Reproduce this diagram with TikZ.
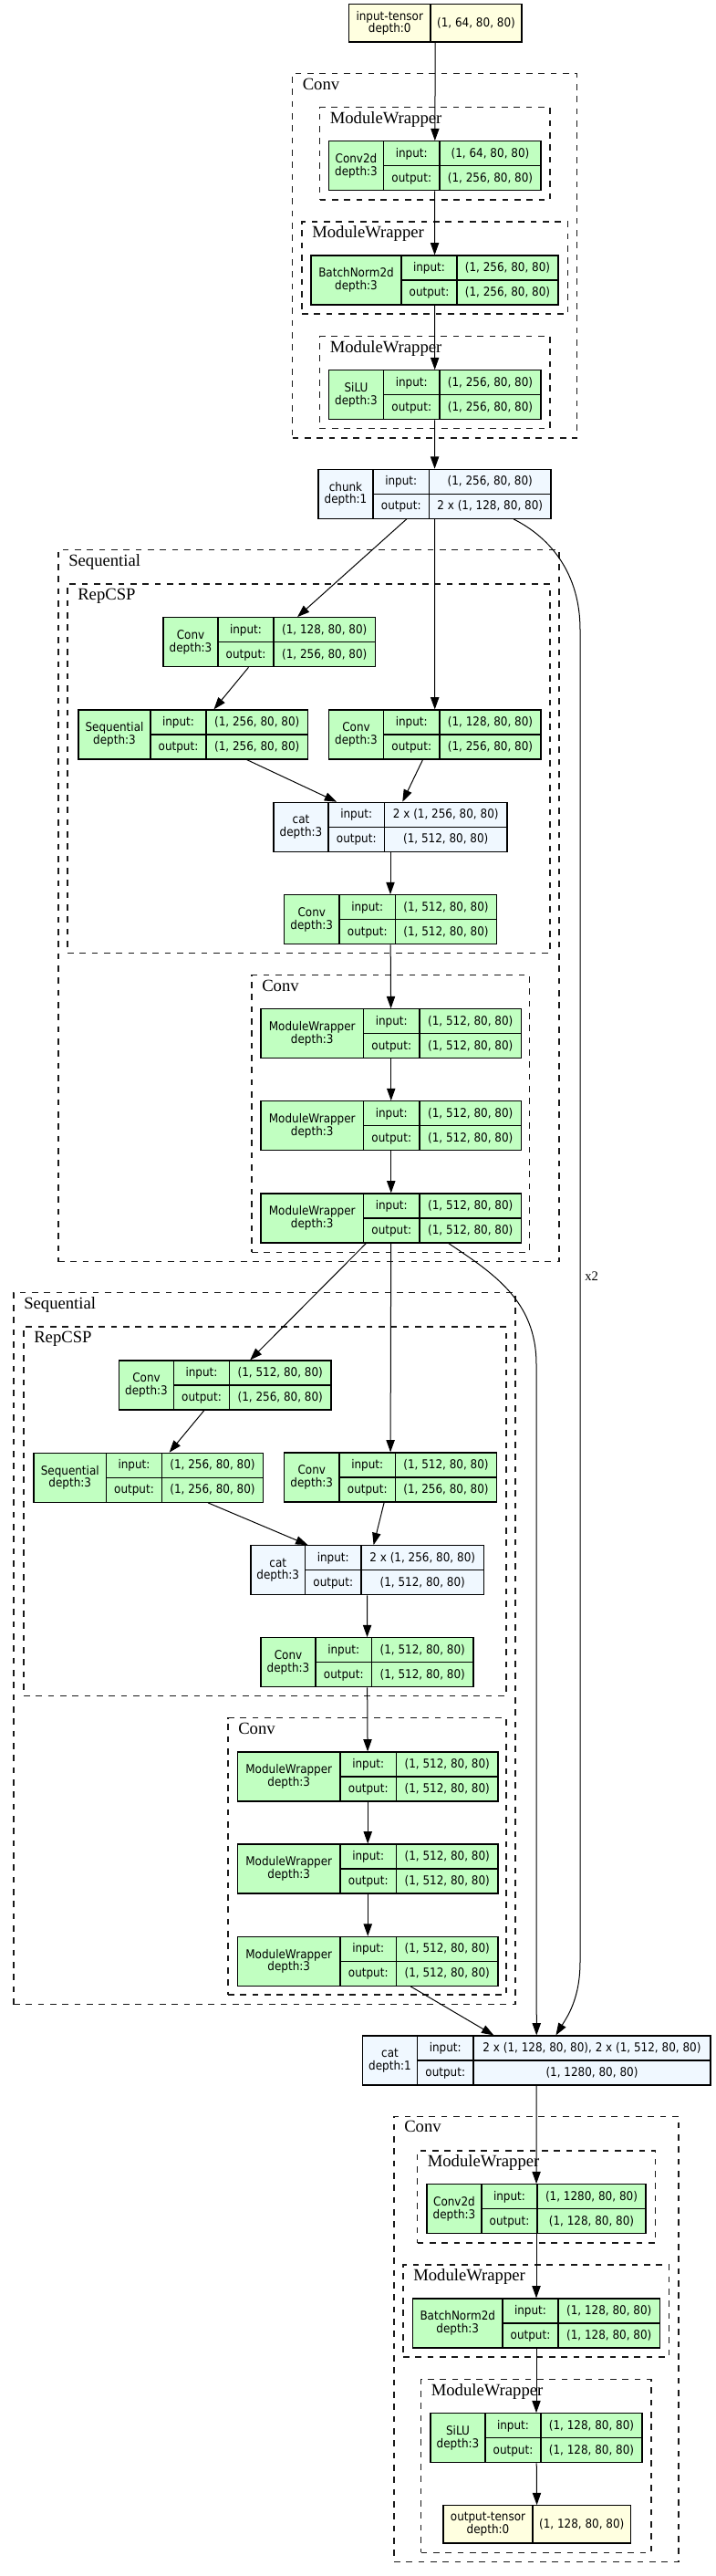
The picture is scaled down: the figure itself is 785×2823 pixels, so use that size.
\documentclass[tikz,border=0pt]{standalone}
\usepackage{fontspec}
\setmainfont{Liberation Serif}
\newfontfamily\nodefont[FakeStretch=0.9]{DejaVu Sans}
\usetikzlibrary{arrows.meta,fit,calc}

\definecolor{gfill}{HTML}{C1FFC1}
\definecolor{yfill}{HTML}{FFFFE0}
\definecolor{afill}{HTML}{F0F8FF}

\tikzset{
  recbox/.style={draw=black, line width=0.9pt, inner sep=0pt},
  recline/.style={draw=black, line width=0.9pt},
  celltxt/.style={inner sep=0pt, font=\nodefont\fontsize{10}{10.1}\selectfont, anchor=base},
  nametxt/.style={inner sep=0pt, font=\nodefont\fontsize{10}{10.1}\selectfont, align=center, anchor=center},
  clusterbox/.style={draw=black!90, line width=0.8pt, dash pattern=on 5pt off 5pt, inner sep=0pt},
  clusterlbl/.style={inner sep=0pt, anchor=base west, font=\fontsize{14}{14}\selectfont},
  edgelbl/.style={inner sep=0pt, anchor=west, font=\fontsize{11}{11}\selectfont},
  edge/.style={draw=black, line width=0.75pt, -{Triangle[length=10pt,width=7pt]}},
}

% record node: name, fill, xl, x1, x2, xr, ytop, label, input, output
\newcommand\rec[8]{\def\rN{#1}\def\rF{#2}\def\rXl{#3}\def\rXa{#4}\def\rXb{#5}\def\rXr{#6}\def\rYt{#7}\def\rL{#8}\recB}
\newcommand\recB[2]{%
  \pgfmathsetmacro\rYb{\rYt+54}%
  \pgfmathsetmacro\rYm{\rYt+27}%
  \node[recbox, fill=\rF, fit={(\rXl,\rYt)(\rXr,\rYb)}] (\rN) {};
  \draw[recline] (\rXa,\rYt) -- (\rXa,\rYb);
  \draw[recline] (\rXb,\rYt) -- (\rXb,\rYb);
  \draw[recline] (\rXa,\rYm) -- (\rXr,\rYm);
  \node[nametxt] at ({(\rXl+\rXa)/2},\rYm) {\rL};
  \node[celltxt] at ({(\rXa+\rXb)/2},{\rYt+17.5}) {input:};
  \node[celltxt] at ({(\rXb+\rXr)/2},{\rYt+17.5}) {#1};
  \node[celltxt] at ({(\rXa+\rXb)/2},{\rYt+44.5}) {output:};
  \node[celltxt] at ({(\rXb+\rXr)/2},{\rYt+44.5}) {#2};
}
% tensor node: name, xl, x1, xr, ytop, label, value
\newcommand\tens[7]{%
  \pgfmathsetmacro\tYb{#5+41.3}%
  \pgfmathsetmacro\tYm{#5+20.65}%
  \node[recbox, fill=yfill, fit={(#2,#5)(#4,\tYb)}] (#1) {};
  \draw[recline] (#3,#5) -- (#3,\tYb);
  \node[nametxt] at ({(#2+#3)/2},\tYm) {#6};
  \node[celltxt] at ({(#3+#4)/2},{\tYm+4}) {#7};
}
% cluster: name, x1, y1, x2, y2, label
\newcommand\clus[6]{%
  \node[clusterbox, fit={(#2,#3)(#4,#5)}] (#1) {};
  \node[clusterlbl] at ({#2+11},{#3+17.5}) {#6};
}

\begin{document}
\begin{tikzpicture}[x=0.75pt,y=-0.75pt]
\fill[white] (0,0) rectangle (785,2823);
\useasboundingbox (0,0) rectangle (785,2823);

% clusters
\clus{cA}{320.5}{80.7}{632.5}{480}{Conv}
\clus{mwA1}{350.5}{117.7}{603}{219}{ModuleWrapper}
\clus{mwA2}{331}{243}{622.5}{344}{ModuleWrapper}
\clus{mwA3}{350.5}{368.7}{603}{469.7}{ModuleWrapper}
\clus{sq1}{64}{602.7}{613}{1382.7}{Sequential}
\clus{rc1}{74}{640}{603}{1044.3}{RepCSP}
\clus{cv1}{276}{1068.7}{580.5}{1372.3}{Conv}
\clus{sq2}{15}{1416.7}{565}{2196.7}{Sequential}
\clus{rc2}{26}{1454}{555}{1858.3}{RepCSP}
\clus{cv2}{250}{1882.7}{555}{2186}{Conv}
\clus{cF}{432}{2319.3}{744}{2807}{Conv}
\clus{mwF1}{457.5}{2357}{718.5}{2458}{ModuleWrapper}
\clus{mwF2}{442}{2482}{733.5}{2583}{ModuleWrapper}
\clus{mwF3}{461.5}{2607.7}{714}{2797}{ModuleWrapper}

% nodes
\tens{inT}{382.5}{472}{572}{4.7}{input-tensor\\depth:0}{(1, 64, 80, 80)}
\rec{conv2dA}{gfill}{360.5}{420.5}{482}{593}{154.7}{Conv2d\\depth:3}{(1, 64, 80, 80)}{(1, 256, 80, 80)}
\rec{bnA}{gfill}{341}{440}{501}{612}{280}{BatchNorm2d\\depth:3}{(1, 256, 80, 80)}{(1, 256, 80, 80)}
\rec{siluA}{gfill}{360.5}{420.5}{482}{593}{405.7}{SiLU\\depth:3}{(1, 256, 80, 80)}{(1, 256, 80, 80)}
\rec{chunk}{afill}{349}{409}{470.5}{604}{514.3}{chunk\\depth:1}{(1, 256, 80, 80)}{2 x (1, 128, 80, 80)}

\rec{convA1}{gfill}{179}{239}{300}{411.5}{676.7}{Conv\\depth:3}{(1, 128, 80, 80)}{(1, 256, 80, 80)}
\rec{seqA1}{gfill}{86}{165}{226}{337.5}{778}{Sequential\\depth:3}{(1, 256, 80, 80)}{(1, 256, 80, 80)}
\rec{convB1}{gfill}{360.5}{420.5}{482}{593}{778}{Conv\\depth:3}{(1, 128, 80, 80)}{(1, 256, 80, 80)}
\rec{catA}{afill}{300}{360}{421.5}{556}{879.3}{cat\\depth:3}{2 x (1, 256, 80, 80)}{(1, 512, 80, 80)}
\rec{convC1}{gfill}{311.5}{372}{433.5}{544.5}{980.7}{Conv\\depth:3}{(1, 512, 80, 80)}{(1, 512, 80, 80)}
\rec{mw1a}{gfill}{286}{398.5}{460}{571.5}{1105.7}{ModuleWrapper\\depth:3}{(1, 512, 80, 80)}{(1, 512, 80, 80)}
\rec{mw2a}{gfill}{286}{398.5}{460}{571.5}{1206.7}{ModuleWrapper\\depth:3}{(1, 512, 80, 80)}{(1, 512, 80, 80)}
\rec{mw3a}{gfill}{286}{398.5}{460}{571.5}{1308}{ModuleWrapper\\depth:3}{(1, 512, 80, 80)}{(1, 512, 80, 80)}

\rec{convA2}{gfill}{130.5}{190.5}{251.5}{363}{1491}{Conv\\depth:3}{(1, 512, 80, 80)}{(1, 256, 80, 80)}
\rec{seqA2}{gfill}{37}{116.5}{177.5}{288.5}{1592.3}{Sequential\\depth:3}{(1, 256, 80, 80)}{(1, 256, 80, 80)}
\rec{convB2}{gfill}{311.5}{372}{433.5}{544.5}{1592}{Conv\\depth:3}{(1, 512, 80, 80)}{(1, 256, 80, 80)}
\rec{catB}{afill}{275}{334.5}{396}{530.5}{1693.7}{cat\\depth:3}{2 x (1, 256, 80, 80)}{(1, 512, 80, 80)}
\rec{convC2}{gfill}{286}{346}{407.5}{519}{1794.7}{Conv\\depth:3}{(1, 512, 80, 80)}{(1, 512, 80, 80)}
\rec{mw1b}{gfill}{260.5}{373}{434.5}{546}{1920}{ModuleWrapper\\depth:3}{(1, 512, 80, 80)}{(1, 512, 80, 80)}
\rec{mw2b}{gfill}{260.5}{373}{434.5}{546}{2021}{ModuleWrapper\\depth:3}{(1, 512, 80, 80)}{(1, 512, 80, 80)}
\rec{mw3b}{gfill}{260.5}{373}{434.5}{546}{2122.3}{ModuleWrapper\\depth:3}{(1, 512, 80, 80)}{(1, 512, 80, 80)}

\rec{catF}{afill}{397.5}{457.5}{519}{779}{2231}{cat\\depth:1}{2 x (1, 128, 80, 80), 2 x (1, 512, 80, 80)}{(1, 1280, 80, 80)}
\rec{conv2dF}{gfill}{468}{528}{589}{708}{2393.7}{Conv2d\\depth:3}{(1, 1280, 80, 80)}{(1, 128, 80, 80)}
\rec{bnF}{gfill}{452.5}{551}{612}{723.5}{2519}{BatchNorm2d\\depth:3}{(1, 128, 80, 80)}{(1, 128, 80, 80)}
\rec{siluF}{gfill}{472}{532}{593}{704}{2644.7}{SiLU\\depth:3}{(1, 128, 80, 80)}{(1, 128, 80, 80)}
\tens{outT}{486}{584}{691.5}{2745.7}{output-tensor\\depth:0}{(1, 128, 80, 80)}

% edges
\draw[edge] (inT) -- (conv2dA);
\draw[edge] (conv2dA) -- (bnA);
\draw[edge] (bnA) -- (siluA);
\draw[edge] (siluA) -- (chunk);
\draw[edge] (chunk) -- (convA1);
\draw[edge] (chunk) -- (convB1);
\draw[edge] (convA1) -- (seqA1);
\draw[edge] (seqA1) -- (catA);
\draw[edge] (convB1) -- (catA);
\draw[edge] (catA) -- (convC1);
\draw[edge] (convC1) -- (mw1a);
\draw[edge] (mw1a) -- (mw2a);
\draw[edge] (mw2a) -- (mw3a);
\draw[edge] (mw3a) -- (convA2);
\draw[edge] (mw3a) -- (convB2);
\draw[edge] (convA2) -- (seqA2);
\draw[edge] (seqA2) -- (catB);
\draw[edge] (convB2) -- (catB);
\draw[edge] (catB) -- (convC2);
\draw[edge] (convC2) -- (mw1b);
\draw[edge] (mw1b) -- (mw2b);
\draw[edge] (mw2b) -- (mw3b);
\draw[edge] (mw3b) -- (catF);
\draw[edge] ($(mw3a.south west)+(206.5,0)$) .. controls (540,1395) and (588,1425) .. (588,1495) -- (catF.north);
\draw[edge] ($(chunk.south east)+(-41.5,0)$) .. controls (605,590) and (636,630) .. (636,690)
  -- (636,2150) .. controls (636,2190) and (622,2210) .. ($(catF.north west)+(212.5,0)$);
\node[edgelbl] (x2lbl) at (641,1399) {x2};
\draw[edge] (catF) -- (conv2dF);
\draw[edge] (conv2dF) -- (bnF);
\draw[edge] (bnF) -- (siluF);
\draw[edge] (siluF) -- (outT);
\end{tikzpicture}
\end{document}
